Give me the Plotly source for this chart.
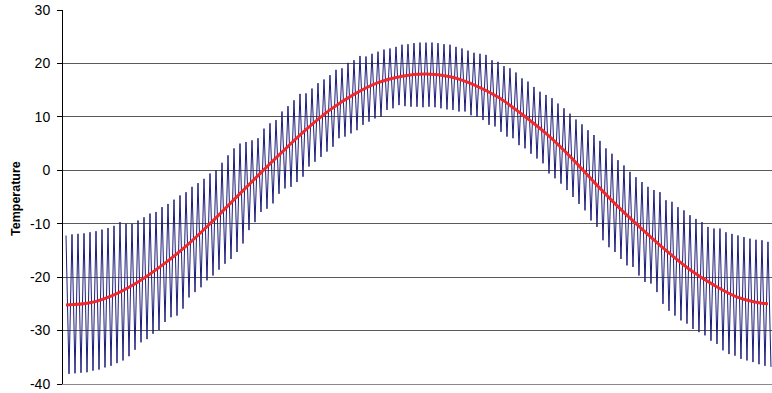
import plotly.graph_objects as go

# Daily-cycle extremes (one peak and one trough per cycle)
peaks = [-12.2, -12.0, -11.9, -11.8, -11.6, -11.4, -11.1, -10.8, -10.4, -9.7,
         -10.0, -10.0, -9.4, -8.8, -8.1, -7.8, -6.9, -6.3, -5.5, -4.7,
         -4.1, -3.1, -2.4, -1.6, -0.6, 0.0, 1.4, 2.8, 4.1, 5.0,
         5.3, 5.6, 6.0, 7.8, 8.8, 9.4, 11.0, 12.0, 13.1, 14.3,
         14.4, 15.3, 16.3, 17.0, 17.8, 18.8, 19.1, 20.1, 20.6, 21.4,
         21.3, 21.8, 22.2, 22.6, 22.8, 23.1, 23.5, 23.6, 23.8, 23.9,
         23.9, 23.9, 23.8, 23.6, 23.5, 23.1, 22.8, 22.4, 22.0, 21.8,
         21.6, 20.6, 20.3, 19.5, 19.1, 18.3, 17.2, 16.6, 15.6, 14.7,
         14.1, 13.5, 12.5, 11.6, 10.6, 9.5, 8.6, 7.5, 6.6, 5.5,
         4.1, 3.1, 1.9, 0.9, -0.3, -1.3, -2.2, -3.1, -3.7, -4.1,
         -5.6, -5.9, -6.9, -7.5, -8.4, -9.1, -9.7, -10.6, -10.9, -10.9,
         -11.6, -11.9, -12.2, -12.5, -12.8, -13.0, -13.1, -13.4]

troughs = [-38.1, -38.0, -37.9, -37.8, -37.5, -37.3, -36.9, -36.6, -36.1, -35.6,
           -34.8, -33.6, -32.2, -31.6, -30.6, -29.9, -28.4, -27.5, -27.2, -25.9,
           -23.8, -22.8, -21.9, -20.6, -19.7, -18.6, -17.5, -16.6, -15.3, -13.7,
           -11.2, -9.7, -7.8, -7.2, -6.2, -4.4, -3.4, -3.1, -2.2, -1.2,
           0.7, 1.6, 2.5, 3.5, 4.4, 6.0, 6.3, 6.9, 7.5, 8.5,
           9.1, 9.7, 10.0, 11.3, 11.6, 12.2, 12.0, 11.9, 11.9, 11.8,
           11.9, 11.8, 11.6, 11.4, 11.3, 11.0, 11.0, 10.3, 10.0, 9.4,
           8.5, 8.2, 7.2, 6.3, 6.0, 4.7, 4.1, 3.1, 2.2, 1.3,
           -0.6, -1.5, -2.5, -3.7, -5.0, -6.3, -7.5, -9.4, -10.6, -13.1,
           -14.4, -15.3, -16.6, -17.8, -18.1, -19.7, -20.9, -21.2, -22.8, -25.0,
           -26.3, -27.2, -28.1, -28.7, -29.7, -30.3, -30.9, -31.9, -32.5, -33.7,
           -34.4, -34.7, -35.3, -35.6, -35.9, -36.3, -36.6, -36.8]

# Smooth seasonal mean (red), read at every 4th cycle plus the last one
mean_pos = [0, 4, 8, 12, 16, 20, 24, 28, 32, 36, 40, 44, 48, 52, 56,
            60, 64, 68, 72, 76, 80, 84, 88, 92, 96, 100, 104, 108, 112, 116, 117]
mean_vals = [-25.2, -24.8, -23.3, -20.9, -17.8, -14.2, -10.0, -5.5, -1.0, 3.4,
             7.6, 11.3, 14.2, 16.4, 17.6, 18.0, 17.5, 16.0, 13.7, 10.5,
             6.9, 2.6, -2.2, -6.8, -11.0, -15.0, -18.6, -21.5, -23.8, -24.9, -25.0]

y_ticks = [-40, -30, -20, -10, 0, 10, 20, 30]

bx, by = [], []
for i, (p, t) in enumerate(zip(peaks, troughs)):
    bx += [i, i + 0.5]
    by += [p, t]

fig = go.Figure()
fig.add_trace(go.Scatter(x=bx, y=by, mode="lines",
                         line=dict(color="#1c1c78", width=1), showlegend=False))
fig.add_trace(go.Scatter(x=mean_pos, y=mean_vals, mode="lines",
                         line=dict(color="#f02a2a", width=3, shape="spline"),
                         showlegend=False))

fig.update_layout(
    width=772, height=393,
    margin=dict(l=63, r=0, t=10, b=9),
    paper_bgcolor="white", plot_bgcolor="white",
    font=dict(family="Arial, Liberation Sans, sans-serif", size=14, color="black"),
    xaxis=dict(range=[-0.5, 117.67], showticklabels=False, showgrid=False,
               zeroline=False, showline=True, linecolor="#8a8a8a", linewidth=1,
               ticks=""),
    yaxis=dict(range=[-40, 30], tickvals=y_ticks, ticktext=[str(v) for v in y_ticks],
               showgrid=True, gridcolor="#5a5a5a", gridwidth=1, zeroline=False,
               showline=True, linecolor="black", linewidth=1,
               ticks="outside", ticklen=5, tickcolor="black",
               ticklabelstandoff=4,
               tickfont=dict(size=14)),
    annotations=[dict(text="<b>Temperature</b>", xref="paper", yref="paper",
                      x=-47 / 709, y=(384 - 199) / 374, xanchor="center", yanchor="middle",
                      textangle=-90, showarrow=False,
                      font=dict(size=12.5, color="black"))],
)

fig.write_html("out.html")
